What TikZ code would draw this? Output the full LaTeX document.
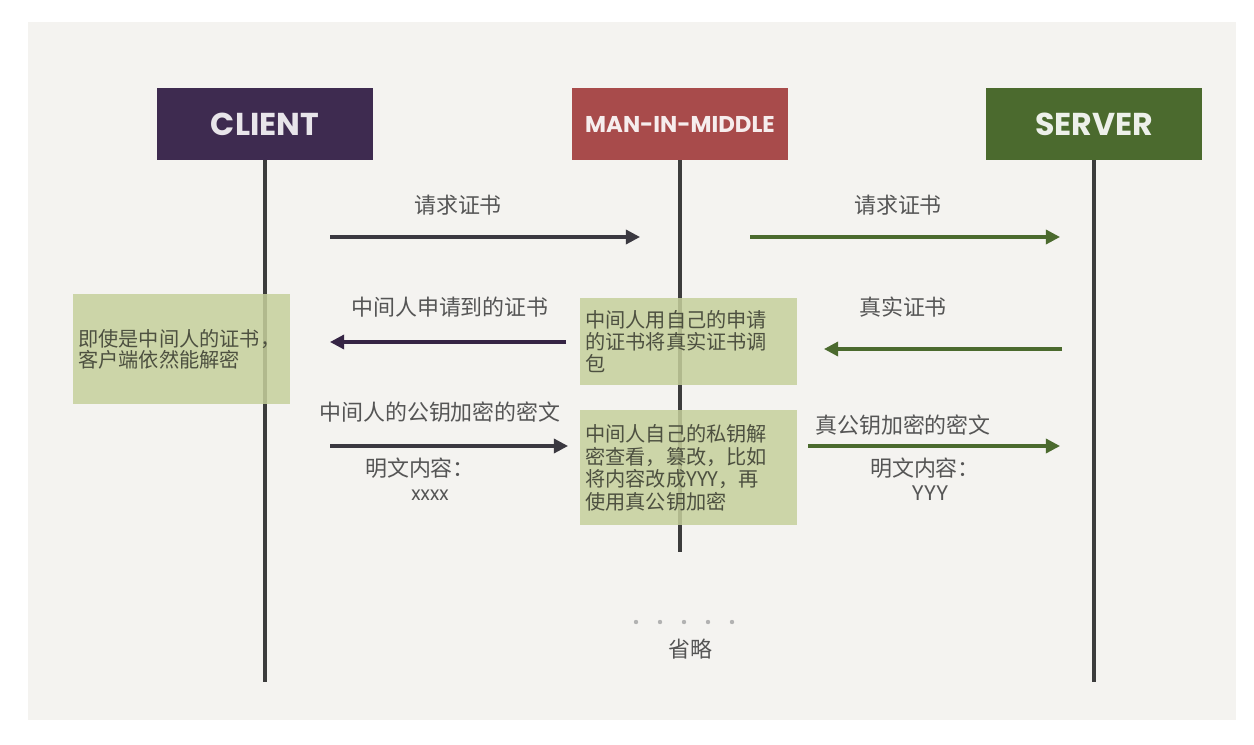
\documentclass[tikz,border=0pt]{standalone}
\usepackage{fontspec}
\newfontfamily\cjk{Noto Sans CJK SC}
\newfontfamily\headfont{Poppins}
\usetikzlibrary{arrows.meta, positioning}
\definecolor{clientpurple}{RGB}{62, 43, 80}
\definecolor{mitmred}{RGB}{168, 75, 75}
\definecolor{servergreen}{RGB}{75, 106, 46}
\definecolor{lifegray}{RGB}{60, 60, 60}
\definecolor{arrowdark}{RGB}{58, 56, 64}
\definecolor{labelgray}{RGB}{85, 85, 85}
\definecolor{notegreen}{RGB}{198, 208, 156}
\definecolor{notetext}{RGB}{77, 80, 64}
\definecolor{panelgray}{RGB}{244, 243, 240}

\begin{document}
\begin{tikzpicture}[x=0.02cm, y=-0.02cm,
  head/.style={minimum width=4.32cm, minimum height=1.44cm, inner sep=0pt, font=\headfont\bfseries\fontsize{18}{20}\selectfont},
  life/.style={draw=lifegray, line width=2.2pt},
  msg/.style={line width=1.8pt, -{Triangle[length=8pt, width=8pt]}},
  lbl/.style={font=\cjk\fontsize{12.5}{14}\selectfont, text=labelgray, inner sep=0pt},
  note/.style={fill=notegreen, fill opacity=0.85, text opacity=1, text=notetext, align=left, text width=4.14cm, inner xsep=0.1cm, inner ysep=0pt, anchor=north west, font=\cjk\fontsize{11.5}{12.5}\selectfont}
]
  \useasboundingbox[fill=white] (0,0) rectangle (1254,744);
  \fill[panelgray] (28,22) rectangle (1236,720);

  \node[head, fill=clientpurple, text=clientpurple!12] (client) at (265,124) {CLIENT};
  \node[head, fill=mitmred, text=mitmred!10, font=\headfont\bfseries\fontsize{13}{16}\selectfont] (mitm) at (680,124) {MAN-IN-MIDDLE};
  \node[head, fill=servergreen, text=servergreen!10] (server) at (1094,124) {SERVER};

  \coordinate (clientend) at (265,682);
  \coordinate (mitmend) at (680,552);
  \coordinate (serverend) at (1094,682);
  \draw[life] (client.south) -- (clientend);
  \draw[life] (mitm.south) -- (mitmend);
  \draw[life] (server.south) -- (serverend);

  \node[note, minimum height=2.2cm] (leftnote) at (73,294) {即使是中间人的证书，\\客户端依然能解密};
  \node[note, minimum height=1.74cm] (fakecert) at (580,298) {中间人用自己的申请\\的证书将真实证书调\\包};
  \node[note, minimum height=2.3cm, font=\cjk\fontsize{11.5}{12.8}\selectfont] (decrypt) at (580,410) {中间人自己的私钥解\\密查看，篡改，比如\\将内容改成YYY，再\\使用真公钥加密};

  \coordinate (req1s) at (330,237);
  \coordinate (req1e) at (640,237);
  \coordinate (req2s) at (750,237);
  \coordinate (req2e) at (1060,237);
  \coordinate (cert1s) at (566,342);
  \coordinate (cert1e) at (330,342);
  \coordinate (cert2s) at (1062,349);
  \coordinate (cert2e) at (824,349);
  \coordinate (enc1s) at (330,446);
  \coordinate (enc1e) at (568,446);
  \coordinate (enc2s) at (808,446);
  \coordinate (enc2e) at (1060,446);

  \draw[msg, arrowdark] (req1s) -- (req1e);
  \draw[msg, servergreen] (req2s) -- (req2e);
  \draw[msg, clientpurple!85!black] (cert1s) -- (cert1e);
  \draw[msg, servergreen] (cert2s) -- (cert2e);
  \draw[msg, arrowdark] (enc1s) -- (enc1e);
  \draw[msg, servergreen] (enc2s) -- (enc2e);

  \node[lbl] (req1lbl) at (458,205) {请求证书};
  \node[lbl] (req2lbl) at (898,205) {请求证书};
  \node[lbl] (cert1lbl) at (450,307) {中间人申请到的证书};
  \node[lbl] (cert2lbl) at (903,307) {真实证书};
  \node[lbl] (enc1lbl) at (440,412) {中间人的公钥加密的密文};
  \node[lbl] (enc2lbl) at (903,425) {真公钥加密的密文};
  \node[lbl] (plain1lbl) at (420,468) {明文内容：};
  \node[lbl, font=\headfont\fontsize{11}{12}\selectfont] (plain1val) at (430,495) {xxxx};
  \node[lbl] (plain2lbl) at (925,468) {明文内容：};
  \node[lbl, font=\headfont\fontsize{12}{13}\selectfont] (plain2val) at (930,493) {YYY};

  \foreach \i in {0,...,4}
    \fill[labelgray!45] (636+24*\i,622) circle (2.2);
  \node[lbl] (omit) at (690,649) {省略};
\end{tikzpicture}
\end{document}
